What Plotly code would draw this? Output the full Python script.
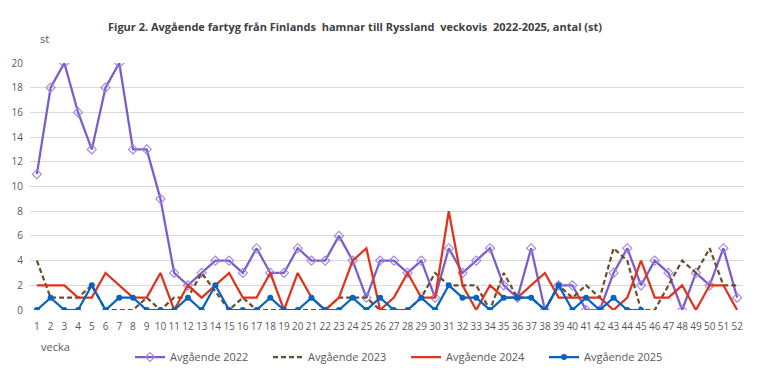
import plotly.graph_objects as go

weeks = list(range(1, 53))

avg_2022 = [11, 18, 20, 16, 13, 18, 20, 13, 13, 9, 3, 2, 3, 4, 4, 3, 5, 3, 3, 5,
            4, 4, 6, 4, 1, 4, 4, 3, 4, 1, 5, 3, 4, 5, 2, 1, 5, 0, 2, 2,
            0, 0, 3, 5, 2, 4, 3, 0, 3, 2, 5, 1]
avg_2023 = [4, 1, 1, 1, 2, 0, 0, 0, 1, 0, 1, 1, 3, None, 0, 1, 0, 0, 0, 0,
            0, 0, 1, 1, 1, 0, 0, 0, 1, 3, 2, 2, 2, 0, 3, 1, 1, 0, 2, 1,
            2, 1, 5, 4, 0, 0, 2, 4, 3, 5, 2, 2]
avg_2024 = [2, 2, 2, 1, 1, 3, 2, 1, 1, 3, 0, 2, 1, 2, 3, 1, 1, 3, 0, 3,
            1, 0, 1, 4, 5, 0, 1, 3, 1, 1, 8, 2, 0, 2, 1, 1, 2, 3, 1, 1,
            1, 1, 0, 1, 4, 1, 1, 2, 0, 2, 2, 0]
avg_2025 = [0, 1, 0, 0, 2, 0, 1, 1, 0, 0, 0, 1, 0, 2, 0, 0, 0, 1, 0, 0,
            1, 0, 0, 1, 0, 1, 0, 0, 1, 0, 2, 1, 1, 0, 1, 1, 1, 0, 2, 0,
            1, 0, 1, 0, 0]

names = ["Avgående 2022", "Avgående 2023", "Avgående 2024", "Avgående 2025"]
title = "Figur 2. Avgående fartyg från Finlands  hamnar till Ryssland  veckovis  2022-2025, antal (st)"

FONT = "Open Sans"
GRAY = "#595959"

fig = go.Figure()
fig.add_trace(go.Scatter(
    x=weeks, y=avg_2022, name=names[0], mode="lines+markers",
    line=dict(color="#7B5CCB", width=2.25),
    marker=dict(symbol="diamond-open", size=7, color="#9D86E0", line=dict(width=1.1)),
))
fig.add_trace(go.Scatter(
    x=weeks, y=avg_2023, name=names[1], mode="lines", connectgaps=True,
    line=dict(color="#6B4E2E", width=2.25, dash="5px,3px"),
))
fig.add_trace(go.Scatter(
    x=weeks, y=avg_2024, name=names[2], mode="lines",
    line=dict(color="#E0331C", width=2.25),
))
fig.add_trace(go.Scatter(
    x=weeks[:len(avg_2025)], y=avg_2025, name=names[3], mode="lines+markers",
    line=dict(color="#0563C1", width=2.25),
    marker=dict(symbol="circle", size=6, color="#0563C1"),
))

fig.update_layout(
    width=757, height=378,
    margin=dict(l=30, r=13, t=63, b=68, autoexpand=False),
    paper_bgcolor="white", plot_bgcolor="white",
    font=dict(family=FONT, size=10, color=GRAY),
    showlegend=True,
    legend=dict(orientation="h", x=(406 - 30) / 714, xanchor="center",
                y=-(357 - 310) / 247, yanchor="middle",
                font=dict(family=FONT, size=11, color=GRAY),
                entrywidth=93, entrywidthmode="pixels", itemwidth=30),
    annotations=[
        dict(text="<b>" + title + "</b>", xref="paper", yref="paper",
             x=(355 - 30) / 714, y=1 + (63 - 26) / 247, xanchor="center", yanchor="middle",
             showarrow=False, font=dict(family=FONT, size=11, color="#404040")),
        dict(text="st", xref="paper", yref="paper", x=(38 - 30) / 714, y=1 + (63 - 38) / 247,
             xanchor="left", yanchor="middle", showarrow=False,
             font=dict(family=FONT, size=11, color=GRAY)),
        dict(text="vecka", xref="paper", yref="paper", x=(39 - 30) / 714, y=-(346 - 310) / 247,
             xanchor="left", yanchor="middle", showarrow=False,
             font=dict(family=FONT, size=11, color=GRAY)),
    ],
)
fig.update_xaxes(range=[0.5, 52.5], tickmode="array", tickvals=weeks,
                 ticktext=[str(w) for w in weeks], tickangle=0,
                 showgrid=False, zeroline=False, showline=False, ticks="",
                 ticklabelstandoff=9,
                 tickfont=dict(family=FONT, size=10, color=GRAY))
fig.update_yaxes(range=[0, 20], dtick=2, showgrid=True, gridcolor="#D9D9D9", gridwidth=1,
                 zeroline=False, showline=False, ticks="", ticklabelstandoff=6,
                 tickfont=dict(family=FONT, size=10, color=GRAY))

fig.write_html("out.html")
